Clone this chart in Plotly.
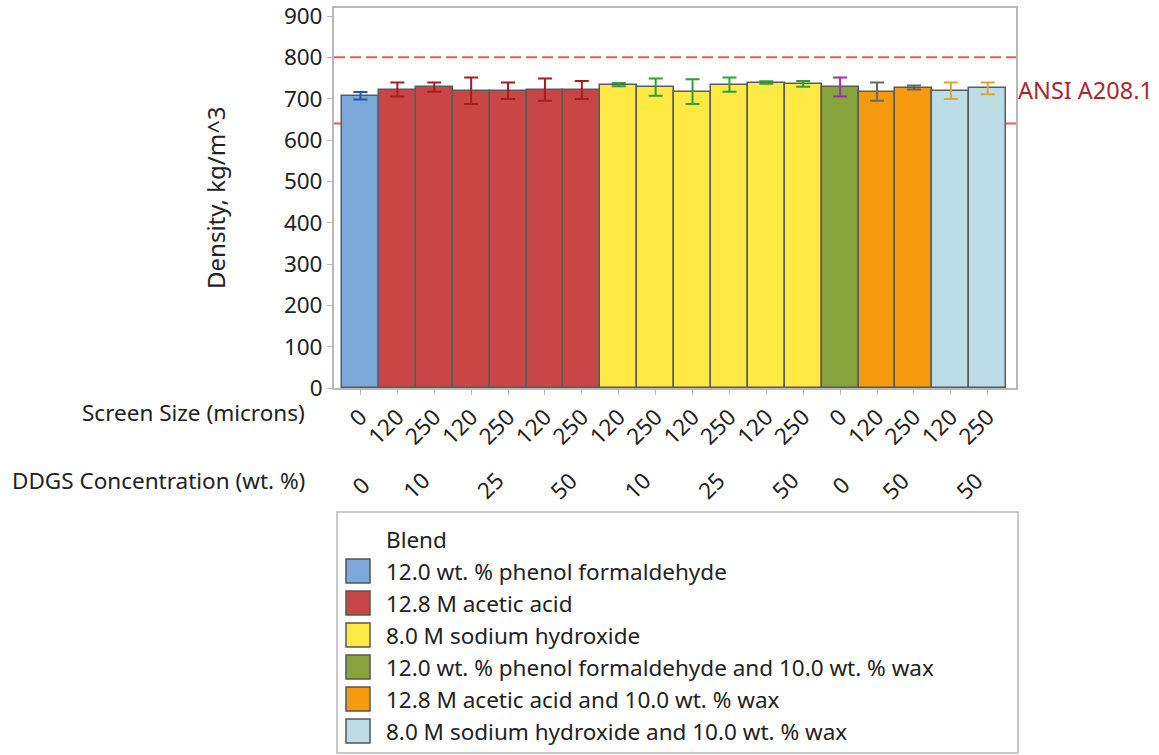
import plotly.graph_objects as go

# ---- data -------------------------------------------------------------
blends = [
    "12.0 wt. % phenol formaldehyde",
    "12.8 M acetic acid",
    "8.0 M sodium hydroxide",
    "12.0 wt. % phenol formaldehyde and 10.0 wt. % wax",
    "12.8 M acetic acid and 10.0 wt. % wax",
    "8.0 M sodium hydroxide and 10.0 wt. % wax",
]
bar_blend = [0, 1, 1, 1, 1, 1, 1, 2, 2, 2, 2, 2, 2, 3, 4, 4, 5, 5]
screen_size = ["0", "120", "250", "120", "250", "120", "250",
               "120", "250", "120", "250", "120", "250",
               "0", "120", "250", "120", "250"]
ddgs_conc = ["0", "10", "10", "25", "25", "50", "50",
             "10", "10", "25", "25", "50", "50",
             "0", "50", "50", "50", "50"]
density = [707, 722, 728, 719, 719, 722, 721,
           734, 728, 717, 734, 739, 736,
           728, 717, 727, 719, 725]
density_err = [9, 17, 11, 32, 20, 27, 22,
               4, 21, 30, 17, 3, 7,
               23, 22, 5, 20, 14]
ansi_low, ansi_high = 640, 800
ansi_label = "ANSI A208.1"

# ---- styling ----------------------------------------------------------
fill_colors = ["#7ba7d9", "#c94646", "#ffe944", "#88a43c", "#f5990f", "#bddde6"]
err_colors = ["#1f5aa6", "#a31d22", "#2e9e3a", "#9b2fae", "#666666", "#e0a23a"]
FONT = "Noto Sans"
TXT = "#222222"
FRAME = "#b8b8b8"
FS = 22.5

W, H = 1159, 755
L, R, T, B = 334, 143, 8, 367
PW, PH = W - L - R, H - T - B


def paper_x(px):
    return (px - L) / PW


def paper_y(py):
    return (T + PH - py) / PH


def label(text, x, y, xref="paper", yref="paper", xanchor="center", yanchor="middle",
          size=FS, color=TXT, angle=0):
    fig.add_annotation(x=x, y=y, xref=xref, yref=yref, xanchor=xanchor, yanchor=yanchor,
                       text=text, textangle=angle, showarrow=False,
                       font=dict(family=FONT, size=size, color=color))


fig = go.Figure()

for k, name in enumerate(blends):
    idx = [i for i, b in enumerate(bar_blend) if b == k]
    fig.add_trace(go.Bar(
        x=idx,
        y=[density[i] for i in idx],
        width=1.0,
        name=name,
        showlegend=False,
        marker=dict(color=fill_colors[k], line=dict(color="#5a5a5a", width=1.5)),
        error_y=dict(type="data", array=[density_err[i] for i in idx],
                     color=err_colors[k], thickness=2, width=7),
    ))

# ANSI reference limits, drawn under the bars
for level in (ansi_low, ansi_high):
    fig.add_shape(type="line", xref="paper", x0=0, x1=1, yref="y", y0=level, y1=level,
                  line=dict(color="#e35d5d", width=2, dash="11px,5px"), layer="below")

label(ansi_label, paper_x(1016), 720, yref="y", xanchor="left", size=23.5, color="#a8282f")

# second label row: DDGS concentration, centred under each run of bars
runs = []
start = 0
for i in range(1, len(ddgs_conc) + 1):
    if i == len(ddgs_conc) or ddgs_conc[i] != ddgs_conc[start] or bar_blend[i] != bar_blend[start]:
        runs.append((ddgs_conc[start], start, i - 1))
        start = i
for text, a, b in runs:
    label(text, (a + b) / 2, paper_y(485), xref="x", angle=-45)

# row titles
label("Screen Size (microns)", paper_x(307), paper_y(412), xanchor="right")
label("DDGS Concentration (wt. %)", paper_x(307), paper_y(480), xanchor="right")

# y axis title
label("Density, kg/m^3", paper_x(215), 0.5, angle=-90, size=24)

# legend panel
fig.add_shape(type="rect", xref="paper", yref="paper",
              x0=paper_x(337), x1=paper_x(1018), y0=paper_y(512), y1=paper_y(753),
              line=dict(color=FRAME, width=1.5), fillcolor="white")
label("Blend", paper_x(384), paper_y(539), xanchor="left")
for k, name in enumerate(blends):
    cy = 571 + 32 * k
    fig.add_shape(type="rect", xref="paper", yref="paper",
                  x0=paper_x(346), x1=paper_x(370), y0=paper_y(cy - 12), y1=paper_y(cy + 12),
                  line=dict(color="#555555", width=1.5), fillcolor=fill_colors[k])
    label(name, paper_x(384), paper_y(cy), xanchor="left")

fig.update_layout(
    width=W, height=H,
    margin=dict(l=L, r=R, t=T, b=B, autoexpand=False),
    paper_bgcolor="white", plot_bgcolor="white",
    barmode="overlay", bargap=0,
    font=dict(family=FONT, size=FS, color=TXT),
    showlegend=False,
)
fig.update_xaxes(
    range=[-0.717, 17.766], automargin=False, ticklabeloverflow="allow",
    tickmode="array", tickvals=list(range(len(screen_size))), ticktext=screen_size,
    tickangle=-45, ticks="outside", ticklen=5, tickcolor=FRAME,
    showline=True, linecolor=FRAME, linewidth=2, mirror=True,
    showgrid=False, zeroline=False,
    tickfont=dict(family=FONT, size=FS, color=TXT),
)
fig.update_yaxes(
    range=[0, 919.4], automargin=False, ticklabeloverflow="allow",
    tickmode="array", tickvals=list(range(0, 901, 100)),
    ticks="outside", ticklen=5, tickcolor=FRAME,
    showline=True, linecolor=FRAME, linewidth=2, mirror=True,
    showgrid=False, zeroline=False,
    tickfont=dict(family=FONT, size=FS, color=TXT),
)

fig.write_html("out.html")
